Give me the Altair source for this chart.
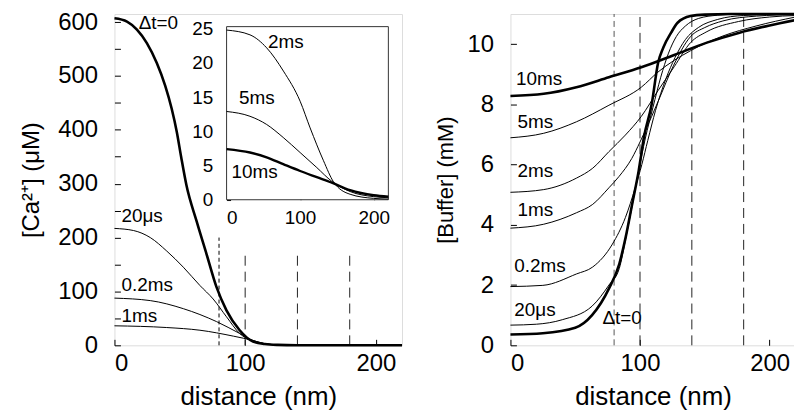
import altair as alt
import pandas as pd

FONT = "Liberation Sans"

# ---------------- Left panel: [Ca2+] (main) ----------------
ca_t0_x = [0, 9.6, 17.2, 24.8, 32.4, 38.8, 43.8, 47.7, 51, 55, 62.9, 70.5, 78.1, 85.7, 95.8, 106, 115, 125, 140, 160, 220]
ca_t0_y = [607, 601, 586, 561, 524, 482, 439, 396, 350, 298, 230, 169, 108, 65, 28, 7, 2.5, 0.8, 0.1, 0, 0]

ca_20us_x = [0, 14.7, 27.4, 40, 52.7, 65.4, 75.5, 85.7, 95.8, 103.4, 110, 120, 130, 150, 220]
ca_20us_y = [217, 213, 200, 175, 145, 111, 86, 53, 22, 10, 5, 1.5, 0.5, 0, 0]

ca_02ms_x = [0, 27.4, 52.7, 78.1, 95.8, 106, 115, 125, 140, 160, 220]
ca_02ms_y = [87.6, 83, 68, 44, 22, 9, 3, 0.8, 0.1, 0, 0]

ca_1ms_x = [0, 40, 65.4, 91, 106, 115, 125, 140, 160, 220]
ca_1ms_y = [36.2, 33, 28, 17, 9, 3, 0.8, 0.1, 0, 0]

# ---------------- Left panel inset ----------------
in_2ms_x = [0, 31.8, 54.5, 77.3, 100, 113.6, 131.8, 145.5, 168, 200, 220]
in_2ms_y = [24.8, 24.1, 22.2, 18.8, 14.4, 10.5, 5.7, 2.6, 0.8, 0.2, 0.1]

in_5ms_x = [0, 31.8, 54.5, 77, 100, 122.7, 143, 168, 200, 220]
in_5ms_y = [12.9, 12.2, 11.0, 9.1, 6.9, 4.7, 2.7, 1.2, 0.45, 0.3]

in_10ms_x = [0, 31.8, 54.5, 77, 100, 122.7, 143, 168, 200, 220]
in_10ms_y = [7.4, 6.9, 6.2, 5.2, 4.2, 3.3, 2.5, 1.4, 0.65, 0.45]

# ---------------- Right panel: [Buffer] ----------------
bu_t0_x = [0, 25, 50, 63, 76, 84, 89, 94, 99, 103, 109, 114, 118, 124, 129, 139, 150, 170, 220]
bu_t0_y = [0.36, 0.40, 0.58, 1.0, 1.88, 2.7, 3.6, 4.7, 5.8, 6.9, 8.0, 9.39, 9.89, 10.38, 10.71, 10.93, 10.98, 11.0, 11.0]

bu_20us_x = [0, 20, 40, 63, 76, 84, 89, 94, 99, 104, 110, 116, 122, 128, 135, 145, 160, 180, 220]
bu_20us_y = [0.67, 0.70, 0.85, 1.3, 2.0, 2.55, 3.55, 4.65, 5.8, 6.85, 7.9, 8.9, 9.7, 10.25, 10.6, 10.85, 10.96, 11.0, 11.0]

bu_02ms_x = [0, 25, 51, 63.5, 78.7, 88.7, 96.3, 101.4, 106, 112, 120, 127, 135, 145, 160, 180, 220]
bu_02ms_y = [1.95, 1.99, 2.37, 2.6, 3.36, 4.24, 5.23, 6.0, 6.8, 7.8, 8.85, 9.55, 10.15, 10.55, 10.82, 10.95, 11.0]

bu_1ms_x = [0, 25.7, 50.9, 63.5, 76, 83.7, 93.6, 100, 109, 114, 126, 139, 150, 164, 190, 220]
bu_1ms_y = [3.89, 4.02, 4.4, 4.68, 5.23, 5.6, 6.2, 6.75, 7.6, 8.1, 9.3, 10.25, 10.55, 10.77, 10.93, 10.98]

bu_2ms_x = [0, 25.7, 50.9, 63.5, 76, 88.7, 101, 113.8, 126.4, 139, 151, 176, 200, 220]
bu_2ms_y = [5.08, 5.17, 5.55, 5.88, 6.43, 6.98, 7.6, 8.45, 9.25, 10.05, 10.4, 10.75, 10.9, 10.95]

bu_5ms_x = [0, 25.7, 50.9, 76, 101, 113.8, 139, 164, 189.5, 220]
bu_5ms_y = [6.89, 7.04, 7.42, 7.97, 8.57, 9.07, 9.78, 10.27, 10.6, 10.9]

bu_10ms_x = [0, 25.7, 50.9, 76, 101, 126.4, 151.6, 176.8, 200, 220]
bu_10ms_y = [8.28, 8.35, 8.57, 8.9, 9.23, 9.64, 10.05, 10.38, 10.62, 10.8]

# dashed reference lines (x positions, tops)
left_dash_x = [80, 100, 140, 180]
left_dash_top = [200, 170, 170, 170]
right_dash_x = [80, 100, 140, 180]
right_dash_top = [11, 11, 11, 11]

# curve labels
left_lab_text = ["\u0394t=0", "20\u03bcs", "0.2ms", "1ms"]
left_lab_x = [18.5, 5.3, 5.3, 5.3]
left_lab_y = [598, 240, 111, 55]

inset_lab_text = ["2ms", "5ms", "10ms"]
inset_lab_x = [56.3, 17, 6.8]
inset_lab_y = [23.1, 14.9, 4.0]

right_lab_text = ["10ms", "5ms", "2ms", "1ms", "0.2ms", "20\u03bcs", "\u0394t=0"]
right_lab_x = [4.3, 5.5, 5.5, 5.5, 3, 3, 71]
right_lab_y = [8.83, 7.42, 5.77, 4.49, 2.64, 1.16, 0.91]

# ---------------- geometry ----------------
LW, RW, H = 289, 286.5, 333
INSET_X = [112.7, 275.3]
INSET_Y = [186.7, 12.7]
X_DOM = [0, 220]
CA_DOM = [0, 615]
IN_DOM = [0, 25.3]
BU_DOM = [0, 11]


def series(name, xs, ys):
    return pd.DataFrame({"x": xs, "y": ys, "series": name})


ca_thick = series("t0", ca_t0_x, ca_t0_y)
ca_thin = pd.concat([series("20us", ca_20us_x, ca_20us_y),
                     series("0.2ms", ca_02ms_x, ca_02ms_y),
                     series("1ms", ca_1ms_x, ca_1ms_y)])
in_thick = series("10ms", in_10ms_x, in_10ms_y)
in_thin = pd.concat([series("2ms", in_2ms_x, in_2ms_y), series("5ms", in_5ms_x, in_5ms_y)])
bu_thick = pd.concat([series("t0", bu_t0_x, bu_t0_y), series("10ms", bu_10ms_x, bu_10ms_y)])
bu_thin = pd.concat([series("20us", bu_20us_x, bu_20us_y),
                     series("0.2ms", bu_02ms_x, bu_02ms_y),
                     series("1ms", bu_1ms_x, bu_1ms_y),
                     series("2ms", bu_2ms_x, bu_2ms_y),
                     series("5ms", bu_5ms_x, bu_5ms_y)])

left_dash = pd.DataFrame({"x": left_dash_x, "y": 0, "y2": left_dash_top})
right_dash = pd.DataFrame({"x": right_dash_x, "y": 0, "y2": right_dash_top})
left_lab = pd.DataFrame({"x": left_lab_x, "y": left_lab_y, "t": left_lab_text})
inset_lab = pd.DataFrame({"x": inset_lab_x, "y": inset_lab_y, "t": inset_lab_text})
right_lab = pd.DataFrame({"x": right_lab_x, "y": right_lab_y, "t": right_lab_text})
inset_box = pd.DataFrame({"x": [X_DOM[0]], "x2": [X_DOM[1]], "y": [IN_DOM[0]], "y2": [IN_DOM[1]]})

TICK = 6
axis_common = dict(domain=False, grid=False, tickColor="black", labelColor="black",
                   titleColor="black", labelFont=FONT, titleFont=FONT,
                   titleFontWeight="normal", tickSize=TICK, offset=-TICK)

X_main = alt.X("x:Q", scale=alt.Scale(domain=X_DOM, nice=False, zero=False),
               axis=alt.Axis(values=[0, 100, 200], labelFontSize=24, labelPadding=6,
                             titleFontSize=26, titlePadding=8, **axis_common),
               title="distance (nm)")
Y_ca = alt.Y("y:Q", scale=alt.Scale(domain=CA_DOM, nice=False),
             axis=alt.Axis(values=list(range(0, 601, 50)),
                           labelExpr="datum.value % 100 === 0 ? datum.label : ''",
                           labelFontSize=24, labelPadding=17, titleFontSize=24,
                           titlePadding=14, **axis_common),
             title="[Ca\u00b2\u207a] (\u03bcM)")

ca_main = alt.layer(
    alt.Chart(left_dash.iloc[[0]]).mark_rule(color="black", strokeWidth=1, strokeDash=[4, 3])
    .encode(x=X_main, y=Y_ca, y2="y2:Q"),
    alt.Chart(left_dash.iloc[1:]).mark_rule(color="#222", strokeWidth=1, strokeDash=[10, 6])
    .encode(x=X_main, y=Y_ca, y2="y2:Q"),
    alt.Chart(ca_thin).mark_line(color="black", strokeWidth=1, interpolate="monotone")
    .encode(x=X_main, y=Y_ca, detail="series:N"),
    alt.Chart(ca_thick).mark_line(color="black", strokeWidth=2.6, interpolate="monotone")
    .encode(x=X_main, y=Y_ca, detail="series:N"),
    alt.Chart(left_lab).mark_text(align="left", baseline="middle", font=FONT, fontSize=19, color="black")
    .encode(x=X_main, y=Y_ca, text="t:N"),
)

inset_axis = dict(domain=False, grid=False, tickColor="black", labelColor="black",
                  labelFont=FONT, tickSize=4, labelFontSize=19)
X_in = alt.X("x:Q", scale=alt.Scale(domain=X_DOM, range=INSET_X, nice=False, zero=False),
             axis=alt.Axis(orient="bottom", values=[0, 100, 200], labelPadding=9,
                           offset=-(H - INSET_Y[0]) - 4, **inset_axis),
             title=None)
Y_in = alt.Y("y:Q", scale=alt.Scale(domain=IN_DOM, range=INSET_Y, nice=False),
             axis=alt.Axis(orient="left", values=[0, 5, 10, 15, 20, 25], labelPadding=14,
                           offset=-INSET_X[0] - 4, **inset_axis),
             title=None)

inset = alt.layer(
    alt.Chart(inset_box).mark_rect(fill="white", stroke="#333", strokeWidth=1)
    .encode(x=X_in, x2="x2:Q", y=Y_in, y2="y2:Q"),
    alt.Chart(in_thin).mark_line(color="black", strokeWidth=1, interpolate="monotone")
    .encode(x=X_in, y=Y_in, detail="series:N"),
    alt.Chart(in_thick).mark_line(color="black", strokeWidth=2.4, interpolate="monotone")
    .encode(x=X_in, y=Y_in, detail="series:N"),
    alt.Chart(inset_lab).mark_text(align="left", baseline="middle", font=FONT, fontSize=19, color="black")
    .encode(x=X_in, y=Y_in, text="t:N"),
)

left = alt.layer(ca_main, inset).resolve_scale(x="independent", y="independent").properties(width=LW, height=H)

X_r = alt.X("x:Q", scale=alt.Scale(domain=X_DOM, nice=False, zero=False),
            axis=alt.Axis(values=[0, 100, 200], labelFontSize=24, labelPadding=6,
                          titleFontSize=26, titlePadding=8, **axis_common),
            title="distance (nm)")
Y_bu = alt.Y("y:Q", scale=alt.Scale(domain=BU_DOM, nice=False),
             axis=alt.Axis(values=[0, 2, 4, 6, 8, 10], labelFontSize=24, labelPadding=17,
                           titleFontSize=22, titlePadding=10, **axis_common),
             title="[Buffer] (mM)")

right = alt.layer(
    alt.Chart(right_dash.iloc[[0]]).mark_rule(color="#555", strokeWidth=1, strokeDash=[6, 4])
    .encode(x=X_r, y=Y_bu, y2="y2:Q"),
    alt.Chart(right_dash.iloc[1:]).mark_rule(color="#222", strokeWidth=1, strokeDash=[10, 6])
    .encode(x=X_r, y=Y_bu, y2="y2:Q"),
    alt.Chart(bu_thin).mark_line(color="black", strokeWidth=1, interpolate="monotone")
    .encode(x=X_r, y=Y_bu, detail="series:N"),
    alt.Chart(bu_thick).mark_line(color="black", strokeWidth=2.6, interpolate="monotone")
    .encode(x=X_r, y=Y_bu, detail="series:N"),
    alt.Chart(right_lab).mark_text(align="left", baseline="middle", font=FONT, fontSize=19, color="black")
    .encode(x=X_r, y=Y_bu, text="t:N"),
).properties(width=RW, height=H)

chart = alt.hconcat(left, right, spacing=25).properties(
    padding={"left": 11, "top": -1, "right": -8, "bottom": 0}
).configure_view(stroke="black", strokeWidth=1).configure(background="white")

chart.save("out.html", embed_options={"renderer": "svg", "actions": False})
